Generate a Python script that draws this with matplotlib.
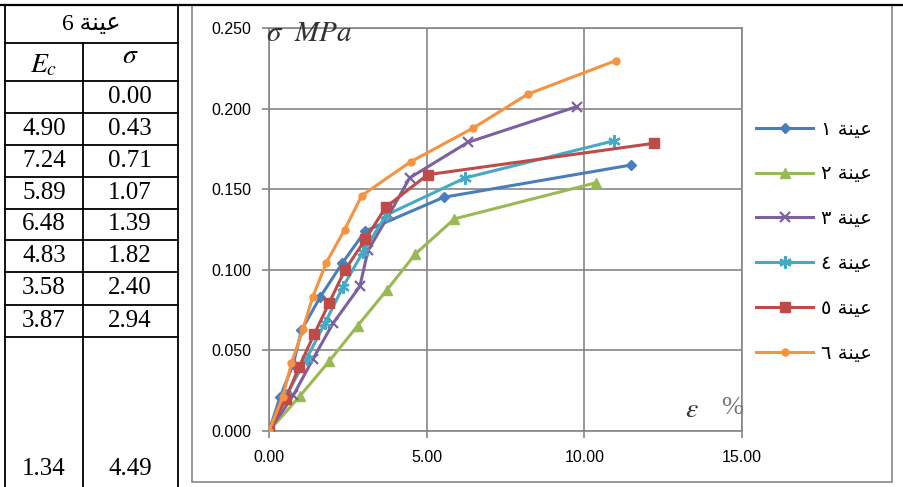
import numpy as np
import matplotlib
matplotlib.use("Agg")
import matplotlib.pyplot as plt
from matplotlib.lines import Line2D

plt.rcParams['mathtext.fontset'] = 'stix'

# strain (%) and stress (MPa), one pair per sample
eps1 = [0, 0.35, 0.77, 1.03, 1.62, 2.32, 3.05, 5.54, 11.48]
sig1 = [0, 0.021, 0.0415, 0.0625, 0.083, 0.104, 0.124, 0.145, 0.165]
eps2 = [0, 0.98, 1.91, 2.81, 3.74, 4.64, 5.88, 10.37]
sig2 = [0, 0.0217, 0.0433, 0.0653, 0.0875, 0.1098, 0.1316, 0.154]
eps3 = [0, 0.77, 1.40, 2.03, 2.88, 3.14, 3.80, 4.46, 6.30, 9.77]
sig3 = [0, 0.0221, 0.0449, 0.0668, 0.0897, 0.112, 0.134, 0.157, 0.179, 0.2013]
eps4 = [0, 0.55, 1.19, 1.77, 2.35, 2.98, 3.72, 6.22, 10.93]
sig4 = [0, 0.0224, 0.0448, 0.0668, 0.0896, 0.111, 0.134, 0.157, 0.180]
eps5 = [0, 0.53, 0.95, 1.43, 1.91, 2.40, 3.06, 3.70, 5.03, 12.21]
sig5 = [0, 0.0199, 0.0397, 0.0599, 0.0796, 0.0996, 0.119, 0.1388, 0.159, 0.1785]
eps6 = [0, 0.43, 0.71, 1.07, 1.39, 1.82, 2.40, 2.94, 4.49, 6.48, 8.21, 10.99]
sig6 = [0, 0.021, 0.0419, 0.063, 0.0834, 0.1045, 0.125, 0.146, 0.167, 0.188, 0.209, 0.2297]

# legend labels: "عينة n" (Arabic presentation forms, visual order)
word = "\uFE94\uFEE8\uFEF4\uFECB"
digits = ["\u0661", "\u0662", "\u0663", "\u0664", "\u0665", "\u0666"]
labels = [d + " " + word for d in digits]

# side table (sample 6)
table_title = "6 " + word
tab_ec = ["", "4.90", "7.24", "5.89", "6.48", "4.83", "3.58", "3.87", "1.34"]
tab_sig = ["0.00", "0.43", "0.71", "1.07", "1.39", "1.82", "2.40", "2.94", "4.49"]

xticks = [0, 5, 10, 15]
yticks = [0, 0.05, 0.10, 0.15, 0.20, 0.25]

W, H = 904, 487
def fx(p):
    return p / W
def fy(p):
    return 1 - p / H

fig = plt.figure(figsize=(W / 100, H / 100), dpi=100)

grid_c = '#868686'
ax = fig.add_axes([fx(269), fy(431), fx(742) - fx(269), fy(28) - fy(431)])

styles = [
    dict(color='#4A7EBB', marker='D', ms=5.5),
    dict(color='#98B954', marker='^', ms=7),
    dict(color='#7D60A0', marker='x', ms=7, mew=1.6),
    dict(color='#46AAC5', marker=(6, 2, 0), ms=9, mew=1.6),
    dict(color='#BE4B48', marker='s', ms=7.5),
    dict(color='#F69240', marker='o', ms=5),
]
series = [(eps1, sig1), (eps2, sig2), (eps3, sig3), (eps4, sig4), (eps5, sig5), (eps6, sig6)]

handles = []
for (x, y), st, lab in zip(series, styles, labels):
    h, = ax.plot(x, y, lw=2.2, label=lab, zorder=3, **st)
    handles.append(h)

ax.set_xlim(0, 15)
ax.set_ylim(0, 0.25)
ax.set_xticks(xticks)
ax.set_xticklabels(['%.2f' % v for v in xticks])
ax.set_yticks(yticks)
ax.set_yticklabels(['%.3f' % v for v in yticks])
ax.grid(True, color=grid_c, lw=1.2)
ax.set_axisbelow(True)
for s in ax.spines.values():
    s.set_color(grid_c)
    s.set_linewidth(1.2)
ax.tick_params(colors=grid_c, length=5, width=1.2, labelcolor='black',
               labelsize=11.5, labelfontfamily='Liberation Sans')
ax.tick_params(axis='y', pad=8)
ax.tick_params(axis='x', pad=9)

fig.text(fx(266), fy(19), r"$\sigma\ \ MPa$", fontsize=21, color='#333333',
         ha='left', va='top')
fig.text(fx(699), fy(409), r"$\varepsilon$", fontsize=20, color='#333333',
         ha='right', va='center')
fig.text(fx(743), fy(408), "%", fontsize=19, color='#777777',
         family='Liberation Serif', ha='right', va='center')

leg = ax.legend(handles=handles, loc='upper left', bbox_to_anchor=(fx(739), fy(102)),
                bbox_transform=fig.transFigure, frameon=False,
                handlelength=2.9, labelspacing=1.33, handletextpad=0.4,
                prop={'family': ['DejaVu Sans'], 'size': 14})

# chart border
fig.add_artist(plt.Rectangle((fx(192), fy(482)), fx(892) - fx(192), fy(5) - fy(482),
                             transform=fig.transFigure, fill=False, ec=grid_c, lw=1.2))

# table lines
def hline(y, x0, x1, lw=1.3):
    fig.add_artist(Line2D([fx(x0), fx(x1)], [fy(y), fy(y)], transform=fig.transFigure,
                          color='black', lw=lw))
def vline(x, y0, y1, lw=1.3):
    fig.add_artist(Line2D([fx(x), fx(x)], [fy(y0), fy(y1)], transform=fig.transFigure,
                          color='black', lw=lw))

hline(5, 0, W, lw=1.6)
vline(5, 5, H)
vline(178, 5, H)
vline(83, 43, H)
row_y = [43, 81, 113, 145, 177, 209, 240, 272, 305, 337]
for y in row_y:
    hline(y, 5, 178)

fig.text(fx(91), fy(24), table_title, fontsize=17, ha='center', va='center',
         family=['Liberation Serif', 'DejaVu Sans'])
fig.text(fx(44), fy(64), r"$E_c$", fontsize=20, ha='center', va='center')
fig.text(fx(130), fy(55), r"$\sigma$", fontsize=20, ha='center', va='center')

centers = [(row_y[i] + row_y[i + 1]) / 2 for i in range(1, len(row_y) - 1)] + [469]
for yc, e, s in zip(centers, tab_ec, tab_sig):
    fig.text(fx(44), fy(yc), e, fontsize=18, ha='center', va='center', family='Liberation Serif')
    fig.text(fx(130), fy(yc), s, fontsize=18, ha='center', va='center', family='Liberation Serif')

fig.savefig('out.png', dpi=100)
